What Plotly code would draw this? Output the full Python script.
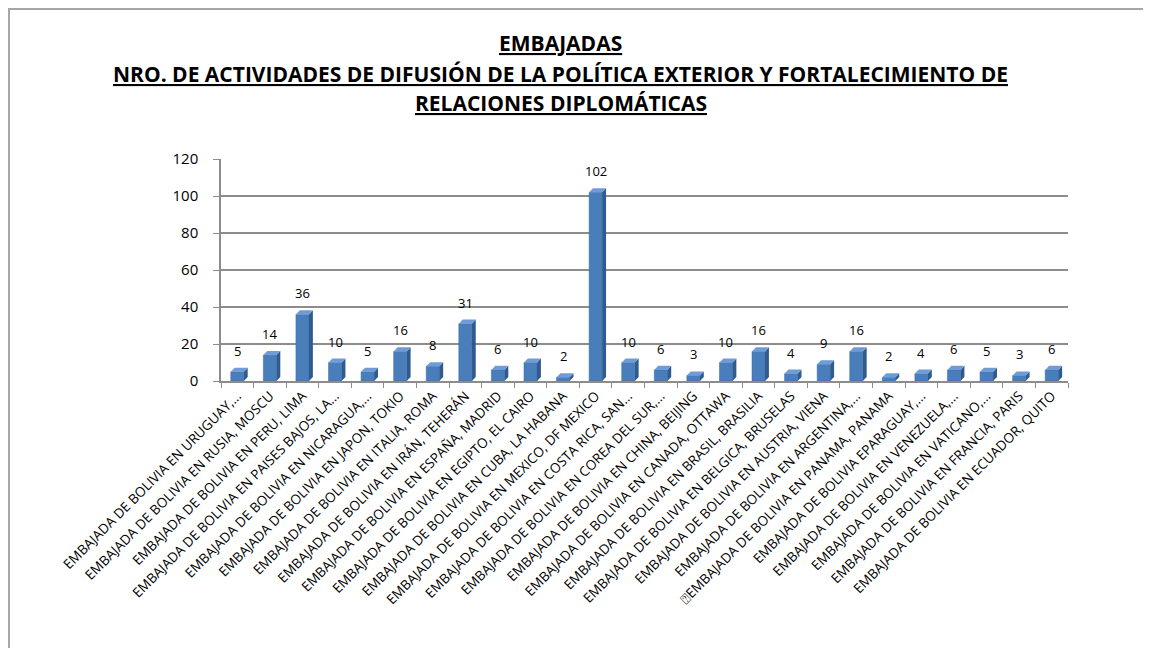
import plotly.graph_objs as go

categorias = [
    "EMBAJADA DE BOLIVIA EN URUGUAY,...",
    "EMBAJADA DE BOLIVIA EN RUSIA, MOSCU",
    "EMBAJADA DE BOLIVIA EN PERU, LIMA",
    "EMBAJADA DE BOLIVIA EN PAISES BAJOS, LA...",
    "EMBAJADA DE BOLIVIA EN NICARAGUA,...",
    "EMBAJADA DE BOLIVIA EN JAPON, TOKIO",
    "EMBAJADA DE BOLIVIA EN ITALIA, ROMA",
    "EMBAJADA DE BOLIVIA EN IRÁN, TEHERÁN",
    "EMBAJADA DE BOLIVIA EN ESPAÑA, MADRID",
    "EMBAJADA DE BOLIVIA EN EGIPTO, EL CAIRO",
    "EMBAJADA DE BOLIVIA EN CUBA, LA HABANA",
    "EMBAJADA DE BOLIVIA EN MEXICO, DF MEXICO",
    "EMBAJADA DE BOLIVIA EN COSTA RICA, SAN...",
    "EMBAJADA DE BOLIVIA EN COREA DEL SUR,...",
    "EMBAJADA DE BOLIVIA EN CHINA, BEIJING",
    "EMBAJADA DE BOLIVIA EN CANADA, OTTAWA",
    "EMBAJADA DE BOLIVIA EN BRASIL, BRASILIA",
    "EMBAJADA DE BOLIVIA EN BELGICA, BRUSELAS",
    "EMBAJADA DE BOLIVIA EN AUSTRIA, VIENA",
    "EMBAJADA DE BOLIVIA EN ARGENTINA,...",
    "\u2370EMBAJADA DE BOLIVIA EN PANAMA, PANAMA",
    "EMBAJADA DE BOLIVIA EPARAGUAY,...",
    "EMBAJADA DE BOLIVIA EN VENEZUELA,...",
    "EMBAJADA DE BOLIVIA EN VATICANO,...",
    "EMBAJADA DE BOLIVIA EN FRANCIA, PARIS",
    "EMBAJADA DE BOLIVIA EN ECUADOR, QUITO",
]
actividades = [5, 14, 36, 10, 5, 16, 8, 31, 6, 10, 2, 102, 10, 6, 3, 10, 16, 4, 9, 16, 2, 4, 6, 5, 3, 6]

titulo = [
    "EMBAJADAS",
    "NRO. DE ACTIVIDADES DE DIFUSIÓN DE LA POLÍTICA EXTERIOR Y FORTALECIMIENTO DE",
    "RELACIONES DIPLOMÁTICAS",
]

ancho = 0.4      # front face width (category units)
dx = 0.12        # depth offset along x
dy = 2.2         # depth offset along y (data units)

fig = go.Figure()
fig.add_trace(go.Bar(x=categorias, y=actividades, width=ancho,
                     marker=dict(color='#4a7ebb', line=dict(color='#3b6aa3', width=0.5)),
                     hoverinfo='x+y'))

shapes = []
for i, v in enumerate(actividades):
    r = i + ancho / 2
    l = i - ancho / 2
    # side face
    shapes.append(dict(type='path', xref='x', yref='y', layer='above',
                       path=f'M {r},0 L {r+dx},{dy} L {r+dx},{v+dy} L {r},{v} Z',
                       fillcolor='#2f5b8f', line=dict(width=0)))
    # top face
    shapes.append(dict(type='path', xref='x', yref='y', layer='above',
                       path=f'M {l},{v} L {l+dx},{v+dy} L {r+dx},{v+dy} L {r},{v} Z',
                       fillcolor='#6f9bd6', line=dict(width=0)))

# chart frame (left and top edges visible)
shapes.append(dict(type='rect', xref='paper', yref='paper', x0=-0.2503, x1=1.3, y0=-1.5, y1=1.6757,
                   line=dict(color='#a6a6a6', width=2), fillcolor='rgba(0,0,0,0)', layer='below'))

annotations = []
for i, v in enumerate(actividades):
    annotations.append(dict(x=i, y=v, xref='x', yref='y', text=str(v), showarrow=False,
                            yanchor='bottom', yshift=10, font=dict(size=13, color='black')))

for t, yy in zip(titulo, [1.523, 1.383, 1.252]):
    annotations.append(dict(x=0.401, y=yy, xref='paper', yref='paper', text=f'<b><u>{t}</u></b>',
                            showarrow=False, xanchor='center', yanchor='middle',
                            font=dict(size=21, color='black', family='Open Sans')))

# page body adds an 8px offset, so the figure is 8px smaller and margins shifted
fig.update_layout(width=1143, height=640,
                  margin=dict(l=213, r=83, t=151, b=267),
                  paper_bgcolor='white', plot_bgcolor='white',
                  showlegend=False, bargap=0.6,
                  font=dict(family='Open Sans', color='black'),
                  shapes=shapes, annotations=annotations)
fig.update_yaxes(range=[0, 120], dtick=20, showgrid=True, gridcolor='#8c8c8c', gridwidth=1.5,
                 showline=True, linecolor='#8c8c8c', linewidth=1.5,
                 ticks='outside', ticklen=6, tickcolor='#8c8c8c', ticklabelstandoff=12,
                 tickfont=dict(size=15), zeroline=False)
fig.update_xaxes(tickangle=-45, tickfont=dict(size=13.5), showline=True, linecolor='#8c8c8c', linewidth=1.5,
                 ticks='outside', tickson='boundaries', ticklen=5, tickcolor='#8c8c8c',
                 range=[-0.5, 25.5])

fig.write_html("out.html")
